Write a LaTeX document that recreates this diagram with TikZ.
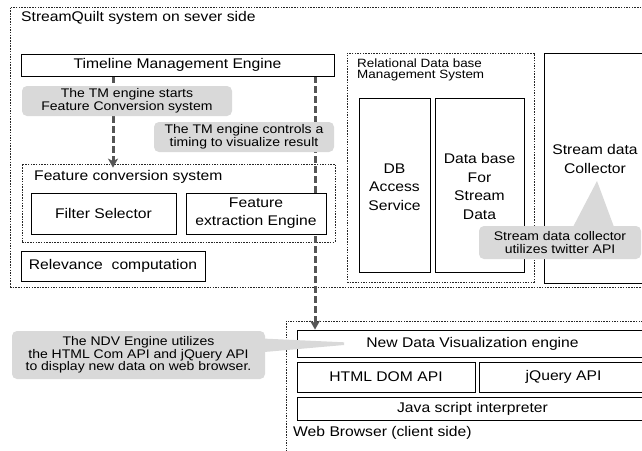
\documentclass[tikz,border=0pt]{standalone}
\usepackage{fontspec}
\setmainfont{Liberation Sans}[FakeStretch=1.12]
\usetikzlibrary{arrows.meta}
\definecolor{callgray}{HTML}{D9D9D9}
\definecolor{arrgray}{HTML}{555555}
\pgfdeclarelayer{bg}
\pgfdeclarelayer{mid}
\pgfsetlayers{bg,mid,main}
\tikzset{
 box/.style={draw=black, line width=0.8pt, fill=white, inner sep=0pt, align=center, font=\fontsize{14}{19}\selectfont},
 group/.style={draw=black!85, line width=0.8pt, dash pattern=on 1.5pt off 1.2pt, inner sep=0pt},
 callout/.style={fill=callgray, rounded corners=5pt, inner sep=0pt, align=center, font=\fontsize{12.5}{12.5}\selectfont},
 conn/.style={draw=arrgray, line width=3pt, dash pattern=on 6.5pt off 3.5pt, -{Stealth[length=9pt,width=10pt,inset=2.5pt]}},
 lbl/.style={inner sep=0pt, anchor=west, font=\fontsize{14}{14}\selectfont},
 txt/.style={inner sep=0pt, align=center, font=\fontsize{14}{18.5}\selectfont},
}
\begin{document}
\begin{tikzpicture}[x=1pt,y=-1pt]
\useasboundingbox (0,0) rectangle (642,450);
\begin{pgfonlayer}{bg}
\fill[white] (0,0) rectangle (642,450);
\end{pgfonlayer}

% groups (dotted containers)
\begin{pgfonlayer}{bg}
\node[group, minimum width=640, minimum height=280] (server) at (330,147) {};
\node[group, minimum width=313, minimum height=78] (fcs) at (178.5,203) {};
\node[group, minimum width=187, minimum height=229] (rdbms) at (440.5,167.5) {};
\node[group, minimum width=364, minimum height=139] (web) at (468,390.5) {};
\end{pgfonlayer}

% group titles
\node[lbl] (servertitle) at (21,18) {StreamQuilt system on sever side};
\node[lbl] (fcstitle) at (34,177) {Feature conversion system};
\node[lbl, align=left, font=\fontsize{12}{11.5}\selectfont] (rdbmstitle) at (357,70) {Relational Data base\\Management System};
\node[lbl] (webtitle) at (293,433) {Web Browser (client side)};

% boxes
\node[box, minimum width=313, minimum height=22] (tm) at (177.5,65) {Timeline Management Engine};
\node[box, minimum width=145, minimum height=41] (filter) at (103.5,213.5) {Filter Selector};
\node[box, minimum width=140, minimum height=41, font=\fontsize{14}{18}\selectfont] (fe) at (256,213.5) {Feature\\extraction Engine};
\node[box, minimum width=184, minimum height=30] (rel) at (113,266) {Relevance\ \ computation};
\node[box, minimum width=71, minimum height=174] (dbas) at (394.5,185) {};
\node[txt] (dbastext) at (394.5,187) {DB\\Access\\Service};
\node[box, minimum width=89, minimum height=174] (dbsd) at (479.5,185) {};
\node[txt] (dbsdtext) at (479.5,186.5) {Data base\\For\\Stream\\Data};
\node[box, minimum width=106, minimum height=230] (coll) at (597,168) {};
\node[txt] (colltext) at (595,159) {Stream data\\Collector};

\node[box, minimum width=351, minimum height=27] (ndv) at (472.5,343.5) {New Data Visualization engine};
\node[box, minimum width=178, minimum height=30] (html) at (386,377) {HTML DOM API};
\node[box, minimum width=169, minimum height=30] (jq) at (563.5,377) {jQuery API};
\node[box, minimum width=351, minimum height=23] (js) at (472.5,408.5) {Java script interpreter};

% callouts
\node[callout, minimum width=210, minimum height=30] (c1) at (127,101) {The TM engine starts\\Feature Conversion system};
\node[callout, minimum width=180, minimum height=30] (c2) at (244,137) {The TM engine controls a\\timing to visualize result};
\node[callout, minimum width=162, minimum height=33] (c3) at (560,242.5) {Stream data collector\\utilizes twitter API};
\coordinate (c3tip) at (597,181);
\fill[callgray] (573,227) -- (c3tip) -- (614,227) -- cycle;
\node[callout, minimum width=253, minimum height=48] (c4) at (138.5,355) {The NDV Engine utilizes\\the HTML Com API and jQuery API\\to display new data on web browser.};
\coordinate (c4tip) at (344,343.6);
\fill[callgray] (262,338.5) -- (344,342.3) -- (344,345) -- (262,352.2) -- cycle;

% connectors
\coordinate (x1) at (113,0);
\coordinate (x2) at (315,0);
\begin{pgfonlayer}{mid}
\draw[conn, shorten >=-4pt] (x1 |- tm.south) -- (x1 |- fcs.north);
\draw[conn] (x2 |- tm.south) -- (x2 |- ndv.north);
\end{pgfonlayer}
\end{tikzpicture}
\end{document}
